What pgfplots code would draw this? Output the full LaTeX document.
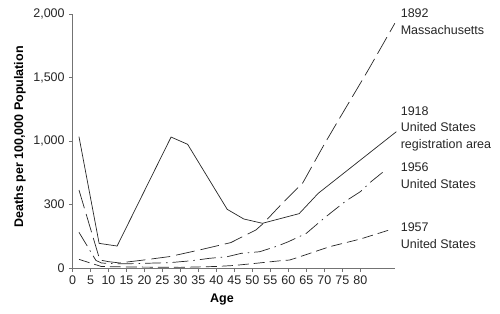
\documentclass[border=0pt]{standalone}
\usepackage{pgfplots}
\pgfplotsset{compat=1.18}
\usepackage{fontspec}
\setmainfont{Liberation Sans}
\begin{document}
\fontsize{12.5}{16.5}\selectfont
\begin{tikzpicture}
\useasboundingbox (-72.5pt,-45pt) rectangle (427.5pt,268pt);
\begin{axis}[
  at={(0,0)}, anchor=south west,
  scale only axis, width=322pt, height=254pt,
  xmin=0, xmax=89.5, ymin=0, ymax=2000,
  axis x line=bottom, axis y line=left,
  axis line style={-, black!55, line width=0.7pt},
  tick style={black!55, line width=0.6pt},
  tick align=outside, major tick length=3.5pt,
  xtick={0,5,...,80},
  ytick={0,500,1000,1500,2000},
  yticklabels={0,300,{1,000},{1,500},{2,000}},
  /pgf/number format/assume math mode=true,
  ticklabel style={font=\fontsize{12.5}{14}\selectfont, text=black!85},
  clip=false,
  xlabel={\textbf{Age}},
  xlabel style={at={(axis description cs:0.464,-0.134)}, anchor=base, font=\fontsize{12.5}{14}\selectfont},
  ylabel={\textbf{Deaths per 100,000 Population}},
  ylabel style={at={(axis description cs:-0.163,0.516)}, anchor=center, font=\fontsize{12.5}{14}\selectfont},
]
% 1918 United States registration area (solid)
\addplot[black!85, line width=0.7pt] coordinates {
 (1.8,1034) (7.4,194) (12.4,173) (27.4,1031) (32,974) (43,462) (47.6,386)
 (52.8,352) (63,428) (68.3,588) (90,1073)};
% 1892 Massachusetts (long dashes)
\addplot[black!85, line width=0.7pt, dash pattern=on 19pt off 6pt] coordinates {
 (1.8,614) (7.6,63) (10,50) (13,40) (19,60) (27,90) (35,140) (44,200)
 (51,300) (53,350) (58,500) (64,670) (70,975) (73.4,1139) (82.2,1559) (89.6,1927)};
% 1956 United States (dash-dot)
\addplot[black!85, line width=0.7pt, dash pattern=on 16pt off 5pt on 1.5pt off 5pt] coordinates {
 (1.8,281) (6.5,60) (8,40) (10,35) (15,33) (20,37) (27,42) (33,57) (38,76)
 (43,89) (47,116) (52,128) (57,173) (60,207) (65,273) (69,370) (72,439)
 (76,528) (80,601) (83,680) (87,772)};
% 1957 United States (medium dashes)
\addplot[black!85, line width=0.7pt, dash pattern=on 11pt off 5pt] coordinates {
 (1.8,68) (6,30) (8,12) (15,8) (30,5) (40,12) (45,20) (52,40) (57,55)
 (60.4,63) (63.2,89) (71.5,168) (80,228) (88.7,305)};
\begin{scope}[every node/.style={anchor=base west, align=left, inner sep=0pt, text=black!85, font=\fontsize{12.5}{16.5}\selectfont}]
\node at (axis cs:91.2,1842) {1892\\Massachusetts};
\node at (axis cs:91.2,941) {1918\\United States\\registration area};
\node at (axis cs:91.2,626) {1956\\United States};
\node at (axis cs:91.2,154) {1957\\United States};
\end{scope}
\end{axis}
\end{tikzpicture}
\end{document}
